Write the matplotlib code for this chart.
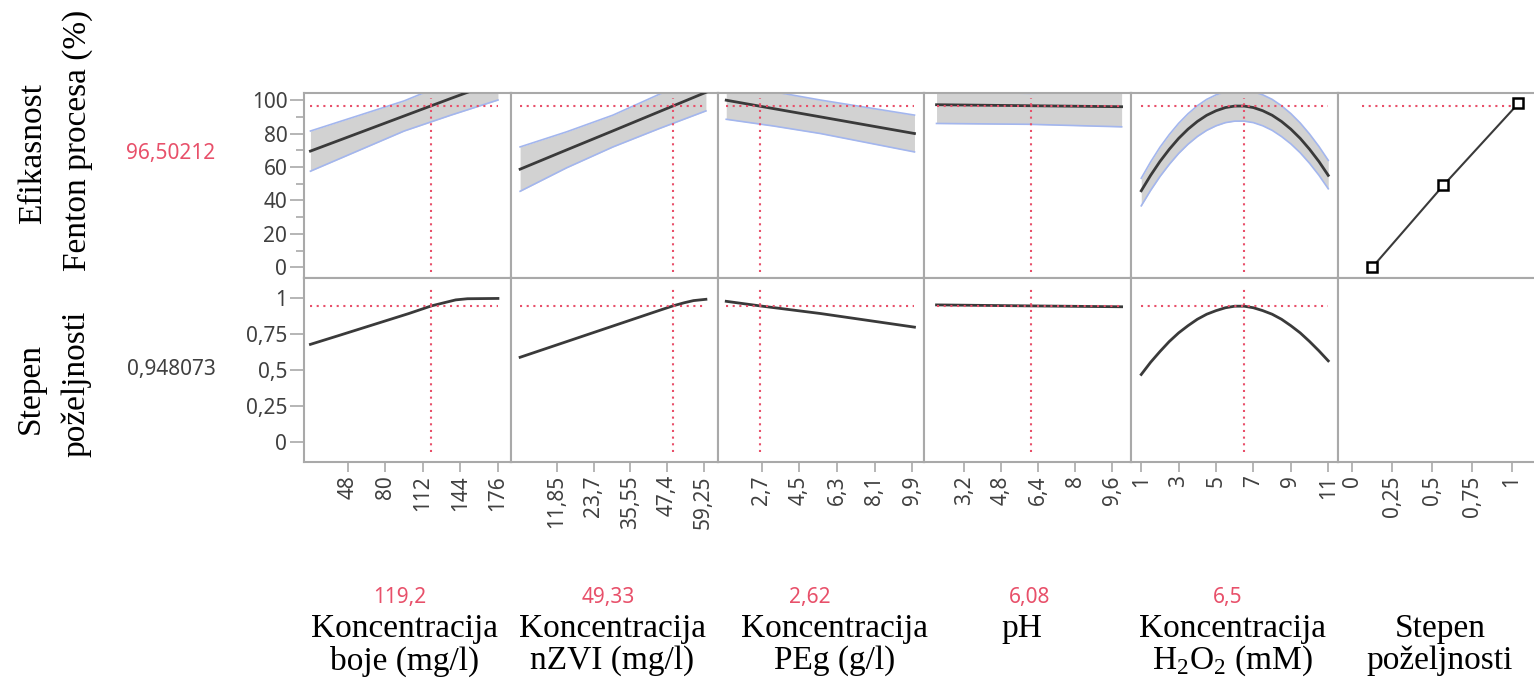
import numpy as np
import matplotlib
matplotlib.use("Agg")
import matplotlib.pyplot as plt

plt.rcParams["font.family"] = ["Noto Sans", "DejaVu Sans"]
plt.rcParams["mathtext.fontset"] = "custom"
plt.rcParams["mathtext.rm"] = "Liberation Serif"

# ---- data ----
boje_x = [16, 56, 96, 136, 176]
boje_fit = [69.5, 80, 90.5, 101, 111.3]
boje_up = [81.5, 90.5, 99.5, 111, 122.5]
boje_lo = [57.5, 69.5, 81.5, 91, 100]
boje_dx = [16, 40, 70, 100, 119.2, 130, 140, 150, 176]
boje_d = [0.68, 0.741, 0.818, 0.895, 0.948, 0.97, 0.99, 0.998, 1.0]

nzvi_x = [0, 15, 30, 45, 60]
nzvi_fit = [58.7, 70.2, 81.6, 93.1, 104.6]
nzvi_up = [72, 81, 91, 103.5, 116]
nzvi_lo = [45.5, 59.5, 72, 83, 93.5]
nzvi_dx = [0, 15, 30, 45, 49.33, 53, 56, 60]
nzvi_d = [0.59, 0.699, 0.808, 0.917, 0.948, 0.97, 0.985, 0.994]

peg_x = [1, 3.25, 5.5, 7.75, 10]
peg_fit = [99.9, 94.9, 89.95, 84.97, 80]
peg_up = [111, 105, 100, 95.5, 91]
peg_lo = [88.5, 84.5, 80, 74.5, 69]
peg_dx = [1, 2.62, 5.5, 10]
peg_d = [0.98, 0.948, 0.895, 0.80]

ph_x = [2, 6, 10]
ph_fit = [97.2, 96.6, 96]
ph_up = [105, 104, 105]
ph_lo = [86, 85.5, 84]
ph_dx = [2, 6.08, 10]
ph_d = [0.955, 0.948, 0.942]

h2o2_x = [1, 1.5, 2, 2.5, 3, 3.5, 4, 4.5, 5, 5.5, 6, 6.5, 7, 7.5, 8, 8.5, 9, 9.5, 10, 10.5, 11]
h2o2_fit = [45.8, 55.0, 63.3, 70.6, 77.1, 82.6, 87.2, 90.9, 93.6, 95.5, 96.4,
            96.4, 95.5, 93.6, 90.9, 87.2, 82.6, 77.1, 70.6, 63.3, 55.0]
h2o2_up = [53.3, 63.0, 71.8, 79.4, 86.1, 91.8, 96.6, 100.4, 103.1, 105.0, 105.9,
           105.9, 105.0, 103.1, 100.4, 96.6, 91.9, 86.3, 79.7, 72.3, 64.0]
h2o2_lo = [36.8, 46.0, 54.3, 61.6, 68.1, 73.6, 78.2, 81.9, 84.6, 86.5, 87.4,
           87.4, 86.5, 84.6, 81.9, 78.2, 73.8, 68.5, 62.2, 55.1, 47.0]
h2o2_d = [0.47, 0.555, 0.63, 0.70, 0.76, 0.81, 0.855, 0.89, 0.915, 0.935, 0.946,
          0.946, 0.935, 0.915, 0.89, 0.855, 0.81, 0.76, 0.70, 0.635, 0.565]

des_x = [0.125, 0.57, 1.04]
des_y = [0, 49, 98]

current_x = [119.2, 49.33, 2.62, 6.08, 6.5]
current_labels = ["119,2", "49,33", "2,62", "6,08", "6,5"]
resp_value = 96.50212
des_value = 0.948073

boje_ticks = [48, 80, 112, 144, 176]
nzvi_ticks = [11.85, 23.7, 35.55, 47.4, 59.25]
peg_ticks = [2.7, 4.5, 6.3, 8.1, 9.9]
ph_ticks = [3.2, 4.8, 6.4, 8, 9.6]
h2o2_ticks = [1, 3, 5, 7, 9, 11]
des_ticks = [0, 0.25, 0.5, 0.75, 1]

titles = [("Koncentracija", "boje (mg/l)"),
          ("Koncentracija", "nZVI (mg/l)"),
          ("Koncentracija", "PEg (g/l)"),
          ("pH", ""),
          ("Koncentracija", r"H$_\mathregular{2}$O$_\mathregular{2}$ (mM)"),
          ("Stepen", "poželjnosti")]

xlims = [(10.5, 187), (-3, 63.8), (0.59, 10.48), (1.48, 10.42), (0.47, 11.53), (-0.0875, 1.206)]

LINE = "#3a3a3a"
BAND = "#d2d2d2"
BAND_EDGE = "#a3b6ee"
RED = "#e8506a"
SPINE = "#a9a9a9"
TICK_TXT = "#404040"
dot = (0, (1, 2.2))
FS_TICK = 15
FS_TITLE = 24

W, H = 1534, 679
fig = plt.figure(figsize=(W / 100, H / 100), dpi=100)
axes = fig.subplots(2, 6, gridspec_kw=dict(wspace=0, hspace=0))
fig.subplots_adjust(left=304 / W, right=1545 / W, top=1 - 93 / H, bottom=1 - 462 / H)

panels = [
    (boje_x, boje_fit, boje_up, boje_lo, boje_dx, boje_d, boje_ticks),
    (nzvi_x, nzvi_fit, nzvi_up, nzvi_lo, nzvi_dx, nzvi_d, nzvi_ticks),
    (peg_x, peg_fit, peg_up, peg_lo, peg_dx, peg_d, peg_ticks),
    (ph_x, ph_fit, ph_up, ph_lo, ph_dx, ph_d, ph_ticks),
    (h2o2_x, h2o2_fit, h2o2_up, h2o2_lo, h2o2_x, h2o2_d, h2o2_ticks),
]


def lab(v):
    return ("%g" % v).replace(".", ",")


for c in range(6):
    top = axes[0, c]
    bot = axes[1, c]
    for ax in (top, bot):
        ax.set_xlim(*xlims[c])
        for s in ax.spines.values():
            s.set_color(SPINE)
            s.set_linewidth(1.5)
        ax.tick_params(colors=SPINE, labelcolor=TICK_TXT, labelsize=FS_TICK,
                       width=1.2, direction="out", pad=2)
        ax.tick_params(axis="y", length=10)
        ax.tick_params(axis="x", length=7.5)
    top.set_ylim(-6, 104.2)
    bot.set_ylim(-0.14, 1.146)

    if c < 5:
        x, fit, up, lo, dx, d, ticks = panels[c]
        top.fill_between(x, lo, up, color=BAND, lw=0, zorder=1)
        top.plot(x, up, color=BAND_EDGE, lw=1.2, zorder=2)
        top.plot(x, lo, color=BAND_EDGE, lw=1.2, zorder=2)
        top.plot(x, fit, color=LINE, lw=2, zorder=3)
        top.hlines(resp_value, x[0], x[-1], color=RED, lw=1.5, linestyles=[dot], zorder=4)
        top.vlines(current_x[c], -3, 101, color=RED, lw=1.5, linestyles=[dot], zorder=4)

        bot.plot(dx, d, color=LINE, lw=2, zorder=3)
        bot.hlines(des_value, x[0], x[-1], color=RED, lw=1.5, linestyles=[dot], zorder=4)
        bot.vlines(current_x[c], -0.07, 1.08, color=RED, lw=1.5, linestyles=[dot], zorder=4)
    else:
        ticks = des_ticks
        top.hlines(resp_value, 0.06, 1.04, color=RED, lw=1.5, linestyles=[dot], zorder=2)
        top.plot(des_x, des_y, color=LINE, lw=1.5, marker="s", ms=7,
                 mfc="white", mec="black", mew=1.8, zorder=3)

    bot.set_xticks(ticks)
    bot.set_xticklabels([lab(t) for t in ticks], rotation=90)
    top.tick_params(bottom=False, labelbottom=False)
    if c > 0:
        top.tick_params(left=False, labelleft=False)
        bot.tick_params(left=False, labelleft=False)

axes[0, 0].set_yticks([0, 20, 40, 60, 80, 100])
axes[0, 0].set_yticks([10, 30, 50, 70, 90], minor=True)
axes[0, 0].tick_params(which="minor", length=6, colors=SPINE, width=1.2)
axes[1, 0].set_yticks(des_ticks)
axes[1, 0].set_yticklabels([lab(t) for t in des_ticks])


def px(x, y):
    return x / W, 1 - y / H


serif = ["Liberation Serif", "DejaVu Serif"]
fig.text(*px(33, 153), "Efikasnost", rotation=90, ha="center", va="center",
         family=serif, fontsize=FS_TITLE)
fig.text(*px(78, 140), "Fenton procesa (%)", rotation=90, ha="center", va="center",
         family=serif, fontsize=FS_TITLE)
fig.text(*px(31, 388), "Stepen", rotation=90, ha="center", va="center",
         family=serif, fontsize=FS_TITLE)
fig.text(*px(76, 384), "poželjnosti", rotation=90, ha="center", va="center",
         family=serif, fontsize=FS_TITLE)

fig.text(*px(171, 153), "96,50212", ha="center", va="center", color=RED, fontsize=FS_TICK)
fig.text(*px(171, 370), "0,948073", ha="center", va="center", color=TICK_TXT, fontsize=FS_TICK)

val_x = [400, 608, 810, 1030, 1228]
for vx, s in zip(val_x, current_labels):
    fig.text(*px(vx, 598), s, ha="center", va="center", color=RED, fontsize=FS_TICK)

title_x = [405, 612, 835, 1022, 1232, 1440]
for tx, (l1, l2) in zip(title_x, titles):
    fig.text(*px(tx, 629), l1, ha="center", va="center", family=serif, fontsize=FS_TITLE)
    if l2:
        fig.text(*px(tx, 661), l2, ha="center", va="center", family=serif, fontsize=FS_TITLE)

fig.savefig("out.png", dpi=100)
